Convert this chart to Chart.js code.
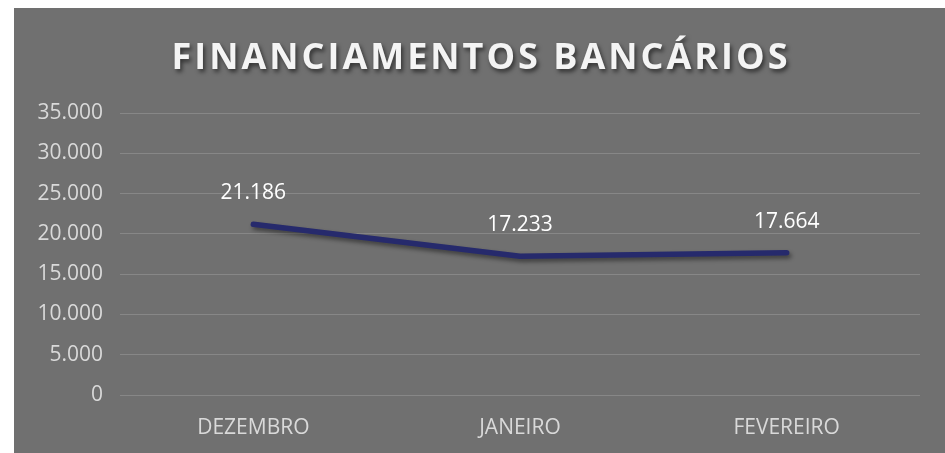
<!DOCTYPE html>
<html><head><meta charset="utf-8">
<script src="https://cdn.jsdelivr.net/npm/chart.js@4"></script>
<style>
html,body{margin:0;padding:0;background:#fff;width:945px;height:453px;overflow:hidden}
#wrap{position:absolute;left:14px;top:8px;width:931px;height:445px;background:#707070}
</style></head><body>
<div id="wrap"><canvas id="c"></canvas></div>
<script>
const chartTitle = 'FINANCIAMENTOS BANCÁRIOS';
const categories = ['DEZEMBRO', 'JANEIRO', 'FEVEREIRO'];
const values = [21186, 17233, 17664];
const yMin = 0, yMax = 35000, yStep = 5000;

function fmt(v) { return String(Math.round(v)).replace(/\B(?=(\d{3})+(?!\d))/g, '.'); }

const FONT = '"Open Sans", "DejaVu Sans", sans-serif';

const titlePlugin = {
  id: 'customTitle',
  afterDraw(chart) {
    const ctx = chart.ctx;
    ctx.save();
    ctx.font = 'bold 36px ' + FONT;
    ctx.letterSpacing = '3px';
    ctx.textAlign = 'center';
    ctx.textBaseline = 'middle';
    ctx.shadowColor = 'rgba(0,0,0,0.55)';
    ctx.shadowOffsetX = 2;
    ctx.shadowOffsetY = 3;
    ctx.shadowBlur = 4;
    ctx.fillStyle = '#f4f4f4';
    ctx.fillText(chartTitle, chart.width / 2 + 1.5, 51);
    ctx.restore();
  }
};

const shadowPlugin = {
  id: 'lineShadow',
  beforeDatasetDraw(chart) {
    const ctx = chart.ctx;
    ctx.save();
    ctx.shadowColor = 'rgba(0,0,0,0.45)';
    ctx.shadowOffsetX = 2;
    ctx.shadowOffsetY = 3;
    ctx.shadowBlur = 4;
  },
  afterDatasetDraw(chart) { chart.ctx.restore(); }
};

const labelPlugin = {
  id: 'dataLabels',
  afterDatasetsDraw(chart) {
    const ctx = chart.ctx;
    const meta = chart.getDatasetMeta(0);
    ctx.save();
    ctx.font = '21px ' + FONT;
    ctx.fillStyle = '#ffffff';
    ctx.textAlign = 'center';
    ctx.textBaseline = 'middle';
    meta.data.forEach((p, i) => {
      ctx.fillText(fmt(chart.data.datasets[0].data[i]), p.x, p.y - 31);
    });
    ctx.restore();
  }
};

new Chart(document.getElementById('c'), {
  type: 'line',
  data: {
    labels: categories,
    datasets: [{
      data: values,
      borderColor: '#262a6c',
      borderWidth: 5.5,
      borderCapStyle: 'round',
      borderJoinStyle: 'round',
      tension: 0,
      pointRadius: 0,
      pointHoverRadius: 0,
      fill: false
    }]
  },
  options: {
    responsive: true,
    maintainAspectRatio: false,
    animation: false,
    events: [],
    layout: { padding: { top: 105, right: 25, left: 0, bottom: 0 } },
    plugins: { legend: { display: false }, title: { display: false }, tooltip: { enabled: false } },
    scales: {
      x: {
        offset: true,
        grid: { display: false, drawTicks: false },
        border: { display: false },
        ticks: { color: '#d9d9d9', font: { size: 21, family: FONT }, padding: 20, maxRotation: 0 },
        afterFit(s) { s.height = 58; }
      },
      y: {
        min: yMin, max: yMax,
        grid: { color: '#878787', lineWidth: 1, drawTicks: false },
        border: { display: false },
        ticks: { stepSize: yStep, color: '#d9d9d9', font: { size: 21, family: FONT }, padding: 17, callback: v => fmt(v) },
        afterFit(s) { s.width = 106; }
      }
    }
  },
  plugins: [titlePlugin, shadowPlugin, labelPlugin]
});
</script>
</body></html>
